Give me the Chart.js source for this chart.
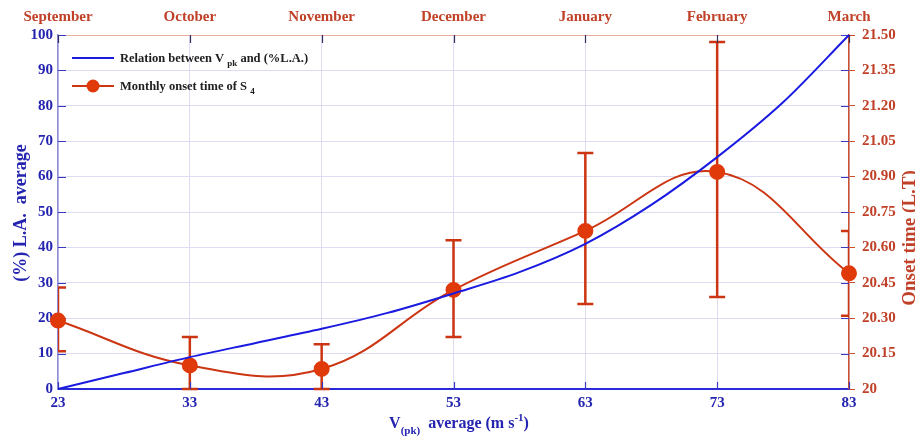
<!DOCTYPE html>
<html><head><meta charset="utf-8">
<script src="https://cdn.jsdelivr.net/npm/chart.js@4.4.0/dist/chart.umd.min.js"></script>
<style>html,body{margin:0;padding:0;background:#fff}#wrap{width:915px;height:441px}</style>
</head><body><div id="wrap"><canvas id="c" width="915" height="441"></canvas></div>
<script>
// ---- data ----
const monthLabels = ['September','October','November','December','January','February','March'];
const vpk = [23, 33, 43, 53, 63, 73, 83];
const onsetMean  = [20.29, 20.10, 20.085, 20.42, 20.67, 20.92, 20.49];
const onsetUpper = [20.43, 20.22, 20.19, 20.63, 21.00, 21.47, 20.67];
const onsetLower = [20.16, 20.00, 20.00, 20.22, 20.36, 20.39, 20.31];
const laX = [23, 28, 33, 38, 43, 48, 53, 58, 63, 68, 73, 78, 83];
const laY = [0, 4.5, 9, 13, 17, 21.5, 27, 33, 41, 52, 65.5, 81, 100];

const FONT = '"Liberation Serif","Times New Roman",serif';
const BLUE_TXT = '#2424b0';
const RED_TXT = '#c04028';
const BLUE_LINE = '#1a1ae0';
const RED_LINE = '#cc3512';
const RED_PT = '#e03a0a';
const GRID = '#dcdcf2';

function drawRich(ctx, parts, x, y, size) {
  let cx = x;
  for (const [t, m] of parts) {
    const s = m === 'n' ? size : Math.round(size * 0.7);
    ctx.font = 'bold ' + s + 'px ' + FONT;
    const dy = m === 'b' ? size * 0.35 : (m === 'p' ? -size * 0.45 : 0);
    ctx.fillText(t, cx, y + dy);
    cx += ctx.measureText(t).width;
  }
  return cx - x;
}
function measureRich(ctx, parts, size) {
  let w = 0;
  for (const [t, m] of parts) {
    const s = m === 'n' ? size : Math.round(size * 0.7);
    ctx.font = 'bold ' + s + 'px ' + FONT;
    w += ctx.measureText(t).width;
  }
  return w;
}

const errorBars = {
  id: 'errorBars',
  beforeDatasetsDraw(chart) {
    const { ctx, chartArea: a, scales } = chart;
    ctx.save();
    ctx.beginPath();
    ctx.rect(a.left, 0, a.right - a.left, chart.height);
    ctx.clip();
    ctx.strokeStyle = RED_LINE;
    ctx.lineWidth = 2.5;
    for (let i = 0; i < vpk.length; i++) {
      const x = scales.x.getPixelForValue(vpk[i]);
      const yt = scales.y2.getPixelForValue(onsetUpper[i]);
      const yb = scales.y2.getPixelForValue(onsetLower[i]);
      ctx.beginPath();
      ctx.moveTo(x, yt); ctx.lineTo(x, yb);
      ctx.moveTo(x - 8, yt); ctx.lineTo(x + 8, yt);
      ctx.moveTo(x - 8, yb); ctx.lineTo(x + 8, yb);
      ctx.stroke();
    }
    ctx.restore();
  }
};

const innerTicks = {
  id: 'innerTicks',
  beforeDatasetsDraw(chart) {
    const { ctx, chartArea: a, scales } = chart;
    ctx.save();
    ctx.lineWidth = 1.2;
    ctx.strokeStyle = '#3a3ac0';
    scales.y.ticks.forEach(t => {
      const y = Math.round(scales.y.getPixelForValue(t.value)) + 0.5;
      ctx.beginPath();
      ctx.moveTo(a.left, y); ctx.lineTo(a.left + 8, y);
      ctx.moveTo(a.right, y); ctx.lineTo(a.right - 8, y);
      ctx.stroke();
    });
    scales.x.ticks.forEach(t => {
      const x = Math.round(scales.x.getPixelForValue(t.value)) + 0.5;
      ctx.strokeStyle = '#3a3ac0';
      ctx.beginPath();
      ctx.moveTo(x, a.bottom); ctx.lineTo(x, a.bottom - 7);
      ctx.stroke();
      ctx.strokeStyle = '#303060';
      ctx.beginPath();
      ctx.moveTo(x, a.top); ctx.lineTo(x, a.top + 8);
      ctx.stroke();
    });
    ctx.restore();
  }
};

const titlesLegend = {
  id: 'titlesLegend',
  afterDraw(chart) {
    const { ctx } = chart;
    ctx.save();
    ctx.textBaseline = 'alphabetic';
    // left title
    ctx.save();
    ctx.translate(26, 213);
    ctx.rotate(-Math.PI / 2);
    ctx.fillStyle = BLUE_TXT;
    ctx.font = 'bold 18px ' + FONT;
    ctx.textAlign = 'center';
    ctx.fillText('(%) L.A.  average', 0, 0);
    ctx.restore();
    // right title
    ctx.save();
    ctx.translate(915, 238);
    ctx.rotate(-Math.PI / 2);
    ctx.fillStyle = RED_TXT;
    ctx.font = 'bold 19px ' + FONT;
    ctx.textAlign = 'center';
    ctx.fillText('Onset time (L.T)', 0, 0);
    ctx.restore();
    // x title
    const xParts = [['V', 'n'], ['(pk)', 'b'], ['  average (m s', 'n'], ['-1', 'p'], [')', 'n']];
    ctx.fillStyle = BLUE_TXT;
    ctx.textAlign = 'left';
    const w = measureRich(ctx, xParts, 16);
    drawRich(ctx, xParts, 459 - w / 2, 428, 16);
    // legend
    ctx.lineWidth = 2;
    ctx.strokeStyle = BLUE_LINE;
    ctx.beginPath(); ctx.moveTo(72, 58); ctx.lineTo(114, 58); ctx.stroke();
    ctx.fillStyle = '#202020';
    drawRich(ctx, [['Relation between V ', 'n'], ['pk', 'b'], [' and (%L.A.)', 'n']], 120, 62, 12.5);
    ctx.strokeStyle = RED_LINE;
    ctx.beginPath(); ctx.moveTo(72, 86); ctx.lineTo(114, 86); ctx.stroke();
    ctx.fillStyle = RED_PT;
    ctx.beginPath(); ctx.arc(93, 86, 6.5, 0, Math.PI * 2); ctx.fill();
    ctx.fillStyle = '#202020';
    drawRich(ctx, [['Monthly onset time of S ', 'n'], ['4', 'b']], 120, 90, 12.5);
    ctx.restore();
  }
};

const tickFont = { family: FONT, size: 15, weight: 'bold' };

new Chart(document.getElementById('c'), {
  type: 'line',
  data: {
    datasets: [
      {
        label: 'Relation between Vpk and (%L.A.)',
        data: laX.map((x, i) => ({ x: x, y: laY[i] })),
        xAxisID: 'x', yAxisID: 'y',
        borderColor: BLUE_LINE, borderWidth: 2,
        pointRadius: 0, cubicInterpolationMode: 'monotone', clip: false
      },
      {
        label: 'Monthly onset time of S4',
        data: vpk.map((x, i) => ({ x: x, y: onsetMean[i] })),
        xAxisID: 'x', yAxisID: 'y2',
        borderColor: RED_LINE, borderWidth: 2, tension: 0.4,
        pointRadius: 7, pointBackgroundColor: RED_PT, pointBorderColor: RED_PT,
        clip: false
      }
    ]
  },
  options: {
    responsive: false,
    animation: false,
    devicePixelRatio: 1,
    layout: { padding: 0 },
    plugins: { legend: { display: false }, tooltip: { enabled: false } },
    scales: {
      x: {
        type: 'linear', position: 'bottom', min: 23, max: 83,
        ticks: { stepSize: 10, color: BLUE_TXT, font: tickFont, padding: 5, maxRotation: 0 },
        grid: { color: GRID, drawTicks: false },
        border: { color: '#2a2ad8', width: 2 },
        afterFit(s) { s.height = 52; }
      },
      x2: {
        type: 'linear', position: 'top', min: 23, max: 83,
        ticks: {
          stepSize: 10, color: RED_TXT, font: tickFont, padding: 9, maxRotation: 0,
          callback: v => { const k = vpk.indexOf(v); return k >= 0 ? monthLabels[k] : ''; }
        },
        grid: { drawOnChartArea: false, drawTicks: false },
        border: { color: '#e8b0a0', width: 1 },
        afterFit(s) { s.height = 35; }
      },
      y: {
        type: 'linear', position: 'left', min: 0, max: 100,
        ticks: { stepSize: 10, color: BLUE_TXT, font: tickFont, padding: 5 },
        grid: { color: GRID, drawTicks: false },
        border: { color: '#8c8cd8', width: 1.5 },
        afterFit(s) { s.width = 58; }
      },
      y2: {
        type: 'linear', position: 'right', min: 20, max: 21.5,
        ticks: {
          stepSize: 0.15, color: RED_TXT, font: tickFont, padding: 7,
          callback: v => (Math.abs(v - 20) < 1e-9 ? '20' : Number(v).toFixed(2))
        },
        grid: { drawOnChartArea: false, drawTicks: true, tickLength: 6, color: '#cc5030' },
        border: { color: '#cc5030', width: 1.5 },
        afterFit(s) { s.width = 66; }
      }
    }
  },
  plugins: [errorBars, innerTicks, titlesLegend]
});
</script>
</body></html>
